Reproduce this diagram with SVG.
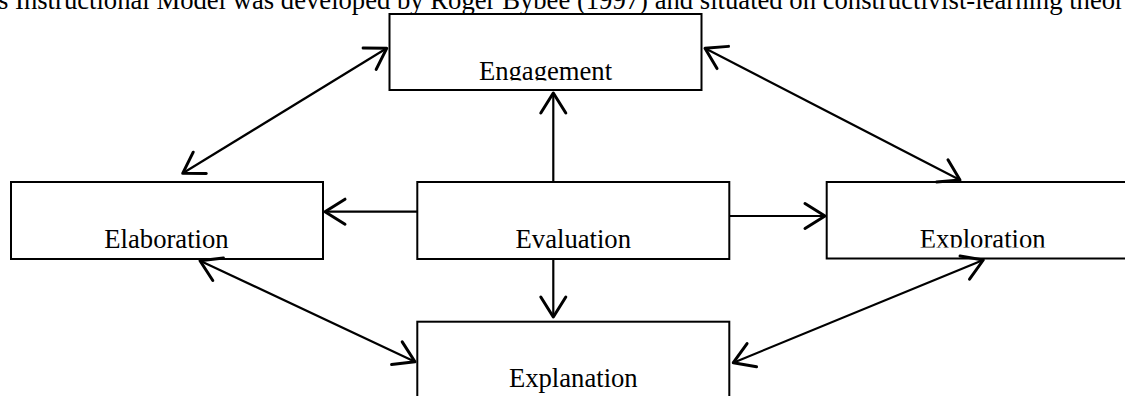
<svg xmlns="http://www.w3.org/2000/svg" width="1125" height="396" viewBox="0 0 1125 396">
<style>
.box{fill:#fff;stroke:#000;stroke-width:2}
.lbl{font-family:"Liberation Serif","Times New Roman",serif;font-size:26.67px;fill:#000;text-anchor:middle}
.title{font-family:"Liberation Serif","Times New Roman",serif;font-size:26.67px;fill:#000}
.con line{stroke:#000;stroke-width:2.2;fill:none}
</style>
<defs>
<marker id="ah" markerUnits="userSpaceOnUse" markerWidth="30" markerHeight="30" viewBox="-20 -12 22 24" refX="0" refY="0" orient="auto-start-reverse">
<path d="M-16,-10 L0,0 L-16,10" fill="none" stroke="#000" stroke-width="2.4" stroke-linejoin="round" stroke-linecap="round"/>
</marker>
<clipPath id="clipEng"><rect x="390" y="15" width="311" height="65.5"/></clipPath>
<clipPath id="clipExp"><rect x="828" y="183" width="300" height="64.5"/></clipPath>
</defs>
<text class="title" x="-2" y="9">s Instructional Model was developed by Roger Bybee (1997) and situated on constructivist-learning theor</text>
<g id="engagement">
<rect class="box" x="389.5" y="14" width="312" height="76"/>
<text class="lbl" x="545.5" y="80" clip-path="url(#clipEng)">Engagement</text>
</g>
<g id="elaboration">
<rect class="box" x="11" y="182" width="312" height="77"/>
<text class="lbl" x="166.5" y="248.3">Elaboration</text>
</g>
<g id="evaluation">
<rect class="box" x="417.3" y="182" width="312" height="77"/>
<text class="lbl" x="573.3" y="248.3">Evaluation</text>
</g>
<g id="exploration">
<rect class="box" x="826.7" y="182" width="312" height="76.5"/>
<text class="lbl" x="982.7" y="248.3" clip-path="url(#clipExp)">Exploration</text>
</g>
<g id="explanation">
<rect class="box" x="417.3" y="321.7" width="312" height="80"/>
<text class="lbl" x="573.3" y="387.3">Explanation</text>
</g>
<g id="connectors" class="con">
<line x1="553.3" y1="182" x2="553.3" y2="93" marker-end="url(#ah)"/>
<line x1="553.3" y1="259" x2="553.3" y2="317" marker-end="url(#ah)"/>
<line x1="417.3" y1="211.7" x2="325" y2="211.7" marker-end="url(#ah)"/>
<line x1="729.3" y1="216" x2="825" y2="216" marker-end="url(#ah)"/>
<line x1="386.7" y1="48.3" x2="182.7" y2="173.3" marker-start="url(#ah)" marker-end="url(#ah)"/>
<line x1="705" y1="48.3" x2="960" y2="180" marker-start="url(#ah)" marker-end="url(#ah)"/>
<line x1="200" y1="260.7" x2="415" y2="361.7" marker-start="url(#ah)" marker-end="url(#ah)"/>
<line x1="733.3" y1="362.7" x2="983.3" y2="260" marker-start="url(#ah)" marker-end="url(#ah)"/>
</g>
</svg>
